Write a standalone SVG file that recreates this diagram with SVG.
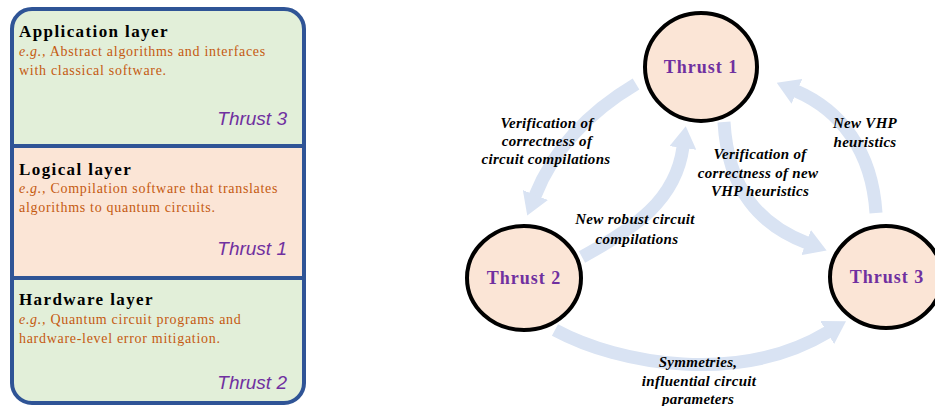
<svg xmlns="http://www.w3.org/2000/svg" width="935" height="406" viewBox="0 0 935 406">
  <style>
    .head { font-family: "Liberation Serif", serif; font-weight: bold; font-size: 17px; fill: #000; letter-spacing: 1.4px; }
    .desc { font-family: "Liberation Serif", serif; font-size: 14px; fill: #c55a11; letter-spacing: 0.7px; }
    .eg { font-style: italic; }
    .tag { font-family: "Liberation Sans", Arial, sans-serif; font-style: italic; font-size: 19px; fill: #7030a0; text-anchor: end; }
    .node ellipse { fill: #fbe5d6; stroke: #000; stroke-width: 4; }
    .node text { font-family: "Liberation Serif", serif; font-weight: bold; font-size: 18px; fill: #7030a0; letter-spacing: 1px; text-anchor: middle; }
    .arrow { fill: none; stroke: #d9e3f3; stroke-width: 13; marker-end: url(#head); }
    .lbl { font-family: "Liberation Serif", serif; font-weight: bold; font-style: italic; font-size: 15px; fill: #000; letter-spacing: 0.3px; text-anchor: middle; }
  </style>
  <defs>
    <marker id="head" viewBox="0 0 22 27" refX="1" refY="13.5" markerWidth="22" markerHeight="27" markerUnits="userSpaceOnUse" orient="auto">
      <path d="M0,0 L22,13.5 L0,27 z" fill="#d9e3f3"/>
    </marker>
  </defs>

  <rect width="935" height="406" fill="#ffffff"/>

  <!-- Left panel -->
  <g id="layers">
    <g id="application-layer">
      <rect x="12" y="9" width="292" height="394" rx="20" ry="20" fill="#e2efd9" stroke="#2f5496" stroke-width="4"/>
      <text class="head" x="19" y="37">Application layer</text>
      <text class="desc" x="19" y="56"><tspan class="eg">e.g.,</tspan> Abstract algorithms and interfaces</text>
      <text class="desc" x="19" y="75">with classical software.</text>
      <text class="tag" x="287" y="125">Thrust 3</text>
    </g>
    <g id="logical-layer">
      <rect x="12" y="146" width="292" height="132" fill="#fbe5d6" stroke="#2f5496" stroke-width="4"/>
      <text class="head" x="19" y="175">Logical layer</text>
      <text class="desc" x="19" y="193"><tspan class="eg">e.g.,</tspan> Compilation software that translates</text>
      <text class="desc" x="19" y="212">algorithms to quantum circuits.</text>
      <text class="tag" x="287" y="255">Thrust 1</text>
    </g>
    <g id="hardware-layer">
      <text class="head" x="19" y="305">Hardware layer</text>
      <text class="desc" x="19" y="324"><tspan class="eg">e.g.,</tspan> Quantum circuit programs and</text>
      <text class="desc" x="19" y="343">hardware-level error mitigation.</text>
      <text class="tag" x="287" y="389">Thrust 2</text>
    </g>
  </g>

  <!-- Connectors -->
  <g id="connectors">
    <path class="arrow" d="M636,84 Q562,128 535,196"/>
    <path class="arrow" d="M582,257 C635,228 676,200 683,147"/>
    <path class="arrow" d="M724,122 C728,190 760,225 807,243"/>
    <path class="arrow" d="M876,213 C872,150 840,110 796,91"/>
    <path class="arrow" d="M555,330 C620,365 740,385 828,332"/>
  </g>

  <!-- Connector labels -->
  <g id="labels">
    <text class="lbl" x="547" y="128">Verification of</text>
    <text class="lbl" x="547" y="146">correctness of</text>
    <text class="lbl" x="546" y="164">circuit compilations</text>

    <text class="lbl" x="635" y="224">New robust circuit</text>
    <text class="lbl" x="637" y="244">compilations</text>

    <text class="lbl" x="760" y="159">Verification of</text>
    <text class="lbl" x="758" y="178">correctness of new</text>
    <text class="lbl" x="760" y="196">VHP heuristics</text>

    <text class="lbl" x="865" y="128">New VHP</text>
    <text class="lbl" x="865" y="147">heuristics</text>

    <text class="lbl" x="698" y="367">Symmetries,</text>
    <text class="lbl" x="699" y="386">influential circuit</text>
    <text class="lbl" x="698" y="404">parameters</text>
  </g>

  <!-- Nodes -->
  <g id="thrust1" class="node">
    <ellipse cx="701" cy="67" rx="56" ry="54"/>
    <text x="701" y="73">Thrust 1</text>
  </g>
  <g id="thrust2" class="node">
    <ellipse cx="524" cy="278" rx="57" ry="52"/>
    <text x="524" y="284">Thrust 2</text>
  </g>
  <g id="thrust3" class="node">
    <ellipse cx="886" cy="277" rx="56" ry="51"/>
    <text x="887" y="283">Thrust 3</text>
  </g>
</svg>
